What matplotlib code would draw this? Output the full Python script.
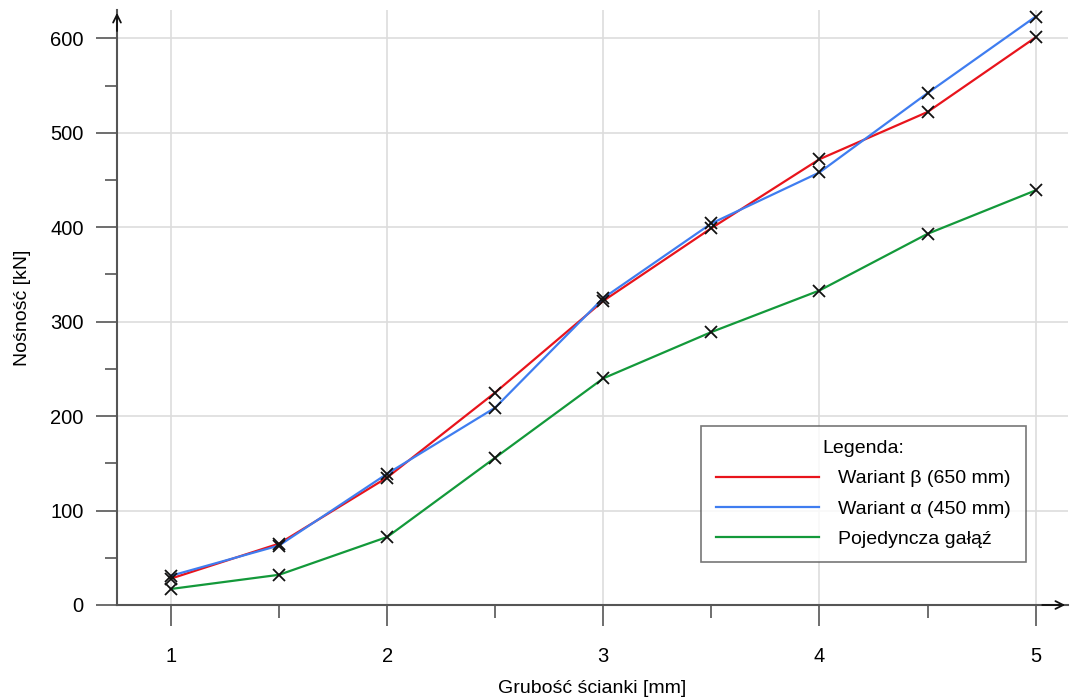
import matplotlib
matplotlib.use("Agg")
import matplotlib.pyplot as plt
from matplotlib.ticker import MultipleLocator

plt.rcParams['font.family'] = ['Liberation Sans', 'DejaVu Sans']

# grubosc scianki [mm]
thickness = [1.0, 1.5, 2.0, 2.5, 3.0, 3.5, 4.0, 4.5, 5.0]
# nosnosc [kN]
beta_650 = [28, 65, 135, 225, 322, 399, 472, 522, 601]
alpha_450 = [31, 63, 139, 209, 325, 404, 458, 542, 623]
single_branch = [17, 32, 72, 156, 240, 289, 333, 393, 439]

labels = ["Wariant β (650 mm)", "Wariant α (450 mm)", "Pojedyncza gałąź"]
colors = ["#e8141c", "#3f7df0", "#13993a"]
axis_col = "#555555"
fs = 14

fig = plt.figure(figsize=(10.7, 6.99), dpi=100)
ax = fig.add_axes([117/1070, 1 - 605/699, (1068-117)/1070, (605-10)/699])

for vals, lab, col in zip([beta_650, alpha_450, single_branch], labels, colors):
    ax.plot(thickness, vals, color=col, lw=1.6, label=lab, zorder=3)
    ax.plot(thickness, vals, ls="none", marker="x", ms=8, mew=1.3, color="#111111", zorder=4)

ax.set_xlim(0.75, 5.15)
ax.set_ylim(0, 630)
ax.xaxis.set_major_locator(MultipleLocator(1))
ax.xaxis.set_minor_locator(MultipleLocator(0.5))
ax.yaxis.set_major_locator(MultipleLocator(100))
ax.yaxis.set_minor_locator(MultipleLocator(50))

ax.grid(True, which="major", color="#dddddd", lw=1.2, zorder=0)
ax.tick_params(which="major", length=15, width=1.2, color=axis_col, labelsize=14.5, pad=9)
ax.tick_params(which="minor", length=9, width=1.2, color=axis_col)
ax.tick_params(axis="x", which="major", pad=15)

for s in ["top", "right"]:
    ax.spines[s].set_visible(False)
for s in ["left", "bottom"]:
    ax.spines[s].set_color(axis_col)
    ax.spines[s].set_linewidth(1.5)

# strzalki na koncach osi
ax.annotate("", xy=(0, 1.0), xytext=(0, 0.96), xycoords="axes fraction",
            arrowprops=dict(arrowstyle="->", color="#111111", lw=1.3, mutation_scale=14))
ax.annotate("", xy=(1.0, 0), xytext=(0.97, 0), xycoords="axes fraction",
            arrowprops=dict(arrowstyle="->", color="#111111", lw=1.3, mutation_scale=14))

ax.set_xlabel("Grubość ścianki [mm]", fontsize=fs, labelpad=10)
ax.set_ylabel("Nośność [kN]", fontsize=fs, labelpad=14)

leg = ax.legend(title="Legenda:", loc="upper left", bbox_to_anchor=(0.604, 0.318),
                fontsize=fs, title_fontsize=fs, handlelength=5.3, handletextpad=1.0,
                frameon=True, fancybox=False, borderpad=0.75, labelspacing=0.65)
leg.get_frame().set_edgecolor("#555555")
leg.get_frame().set_linewidth(1.2)

fig.savefig("out.png", dpi=100)
